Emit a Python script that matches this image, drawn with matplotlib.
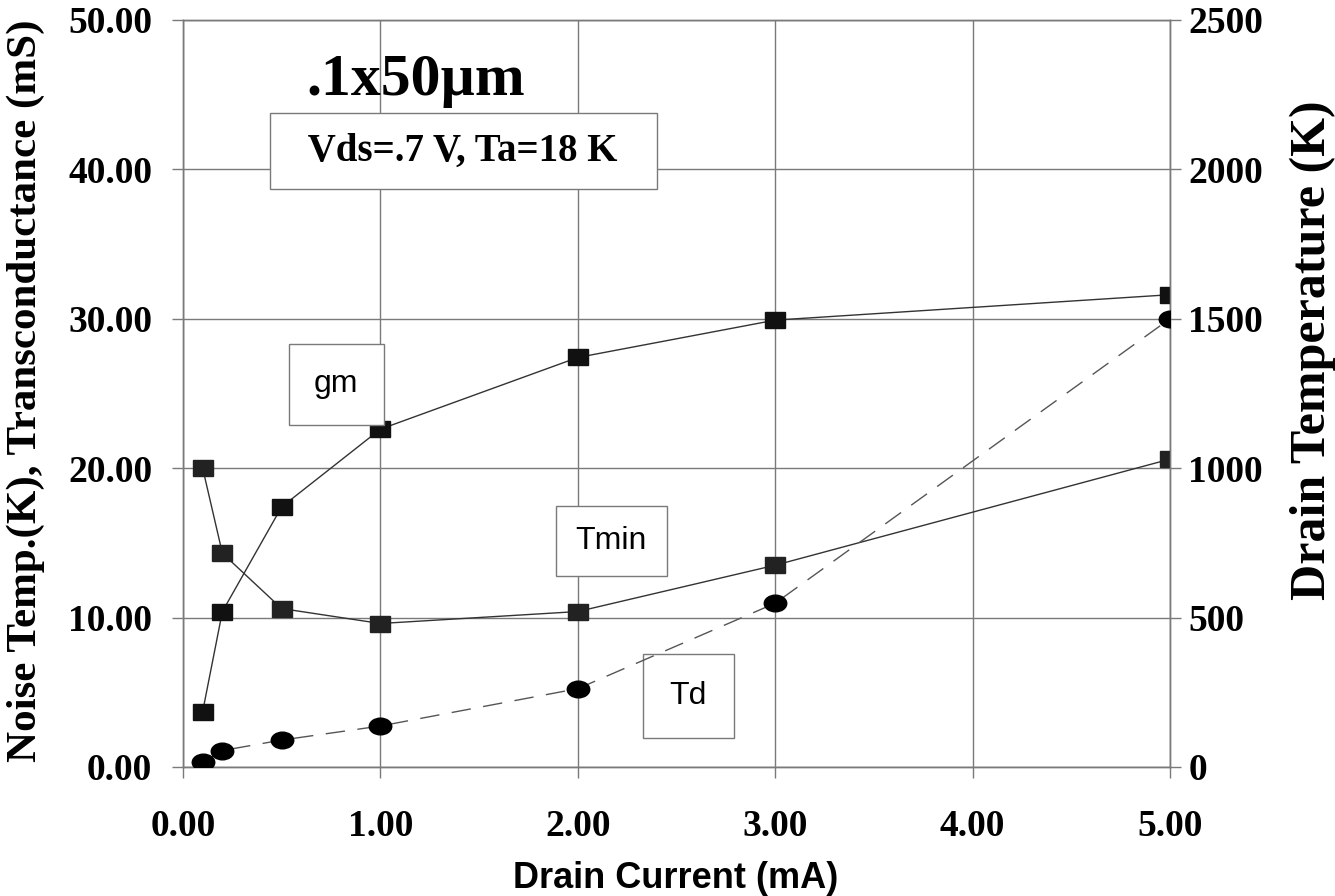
import numpy as np
import matplotlib.pyplot as plt
from matplotlib.markers import MarkerStyle
from matplotlib.transforms import Affine2D

# drain current (mA)
current = [0.1, 0.2, 0.5, 1.0, 2.0, 3.0, 5.0]
# transconductance gm (mS), left axis
gm = [3.7, 10.4, 17.4, 22.6, 27.4, 29.9, 31.6]
# minimum noise temperature Tmin (K), left axis
tmin = [20.0, 14.3, 10.6, 9.6, 10.4, 13.5, 20.6]
# drain temperature Td (K), right axis
td = [15, 55, 90, 137, 262, 548, 1500]

serif = 'Liberation Serif'
sans = 'Liberation Sans'
grid_col = '#7a7a7a'

fig = plt.figure(figsize=(13.35, 8.96), dpi=100)
ax = fig.add_axes([0.137, 0.144, 0.7395, 0.834])
ax2 = ax.twinx()

sq = MarkerStyle('s', transform=Affine2D().scale(1.0, 0.85))
ax.plot(current, gm, color='#333333', lw=1.0, marker=sq, ms=14,
        mfc='#111111', mec='#111111', zorder=3)
ax.plot(current, tmin, color='#333333', lw=1.0, marker=sq, ms=14,
        mfc='#222222', mec='#222222', zorder=3)
oval = MarkerStyle('o', transform=Affine2D().scale(1.35, 1.0))
ax2.plot(current, td, color='#555555', lw=1.0, ls=(0, (14, 9)),
         marker=oval, ms=12, mfc='black', mec='black', zorder=3)

ax.set_xlim(0, 5)
ax.set_ylim(0, 50)
ax2.set_ylim(0, 2500)
ax.set_xticks(np.arange(0, 5.01, 1))
ax.set_yticks(np.arange(0, 50.01, 10))
ax2.set_yticks(np.arange(0, 2501, 500))
ax.set_xticklabels(['%.2f' % v for v in np.arange(0, 5.01, 1)])
ax.set_yticklabels(['%.2f' % v for v in np.arange(0, 50.01, 10)])

ax.grid(True, color=grid_col, lw=1.0)
for a in (ax, ax2):
    a.tick_params(direction='out', length=8, width=1.0, color=grid_col, pad=5)
    for s in a.spines.values():
        s.set_color(grid_col)
        s.set_linewidth(1.0)
    for lab in a.get_yticklabels() + a.get_xticklabels():
        lab.set_fontfamily(serif)
        lab.set_fontweight('bold')
        lab.set_fontsize(27)
ax.tick_params(axis='x', pad=22)
ax.tick_params(axis='y', pad=14)

ax.set_ylabel('Noise Temp.(K), Transconductance (mS)', fontfamily=serif,
              fontweight='bold', fontsize=31, ha='center', va='center')
ax.yaxis.set_label_coords(-0.159, 0.503)
ax2.set_ylabel('Drain Temperature (K)', fontfamily=serif, fontweight='bold',
               fontsize=36, ha='center', va='center')
ax2.yaxis.set_label_coords(1.145, 0.558)
ax.set_xlabel('Drain Current (mA)', fontfamily=sans, fontweight='bold',
              fontsize=26, ha='center', va='center')
ax.xaxis.set_label_coords(0.4995, -0.1486)

ax.text(1.18, 45.9, '.1x50\u00b5m', fontfamily=serif, fontweight='bold',
        fontsize=43, ha='center', va='center', zorder=5)
ax.text(1.42, 41.2, '  Vds=.7 V, Ta=18 K  ', fontfamily=serif, fontweight='bold',
        fontsize=28, ha='center', va='center', zorder=5,
        bbox=dict(boxstyle='square,pad=0.5', fc='white', ec=grid_col, lw=1.0))
box = dict(fc='white', ec=grid_col, lw=1.0)
ax.text(0.777, 25.6, 'gm', fontfamily=sans, fontsize=23, ha='center',
        va='center', zorder=5, bbox=dict(boxstyle='square,pad=0.8', **box))
ax.text(2.17, 15.1, 'Tmin', fontfamily=sans, fontsize=23, ha='center',
        va='center', zorder=5, bbox=dict(boxstyle='square,pad=0.62', **box))
ax.text(2.56, 4.75, 'Td', fontfamily=sans, fontsize=23, ha='center',
        va='center', zorder=5, bbox=dict(boxstyle='square,pad=0.85', **box))

fig.savefig('out.png', dpi=100)
